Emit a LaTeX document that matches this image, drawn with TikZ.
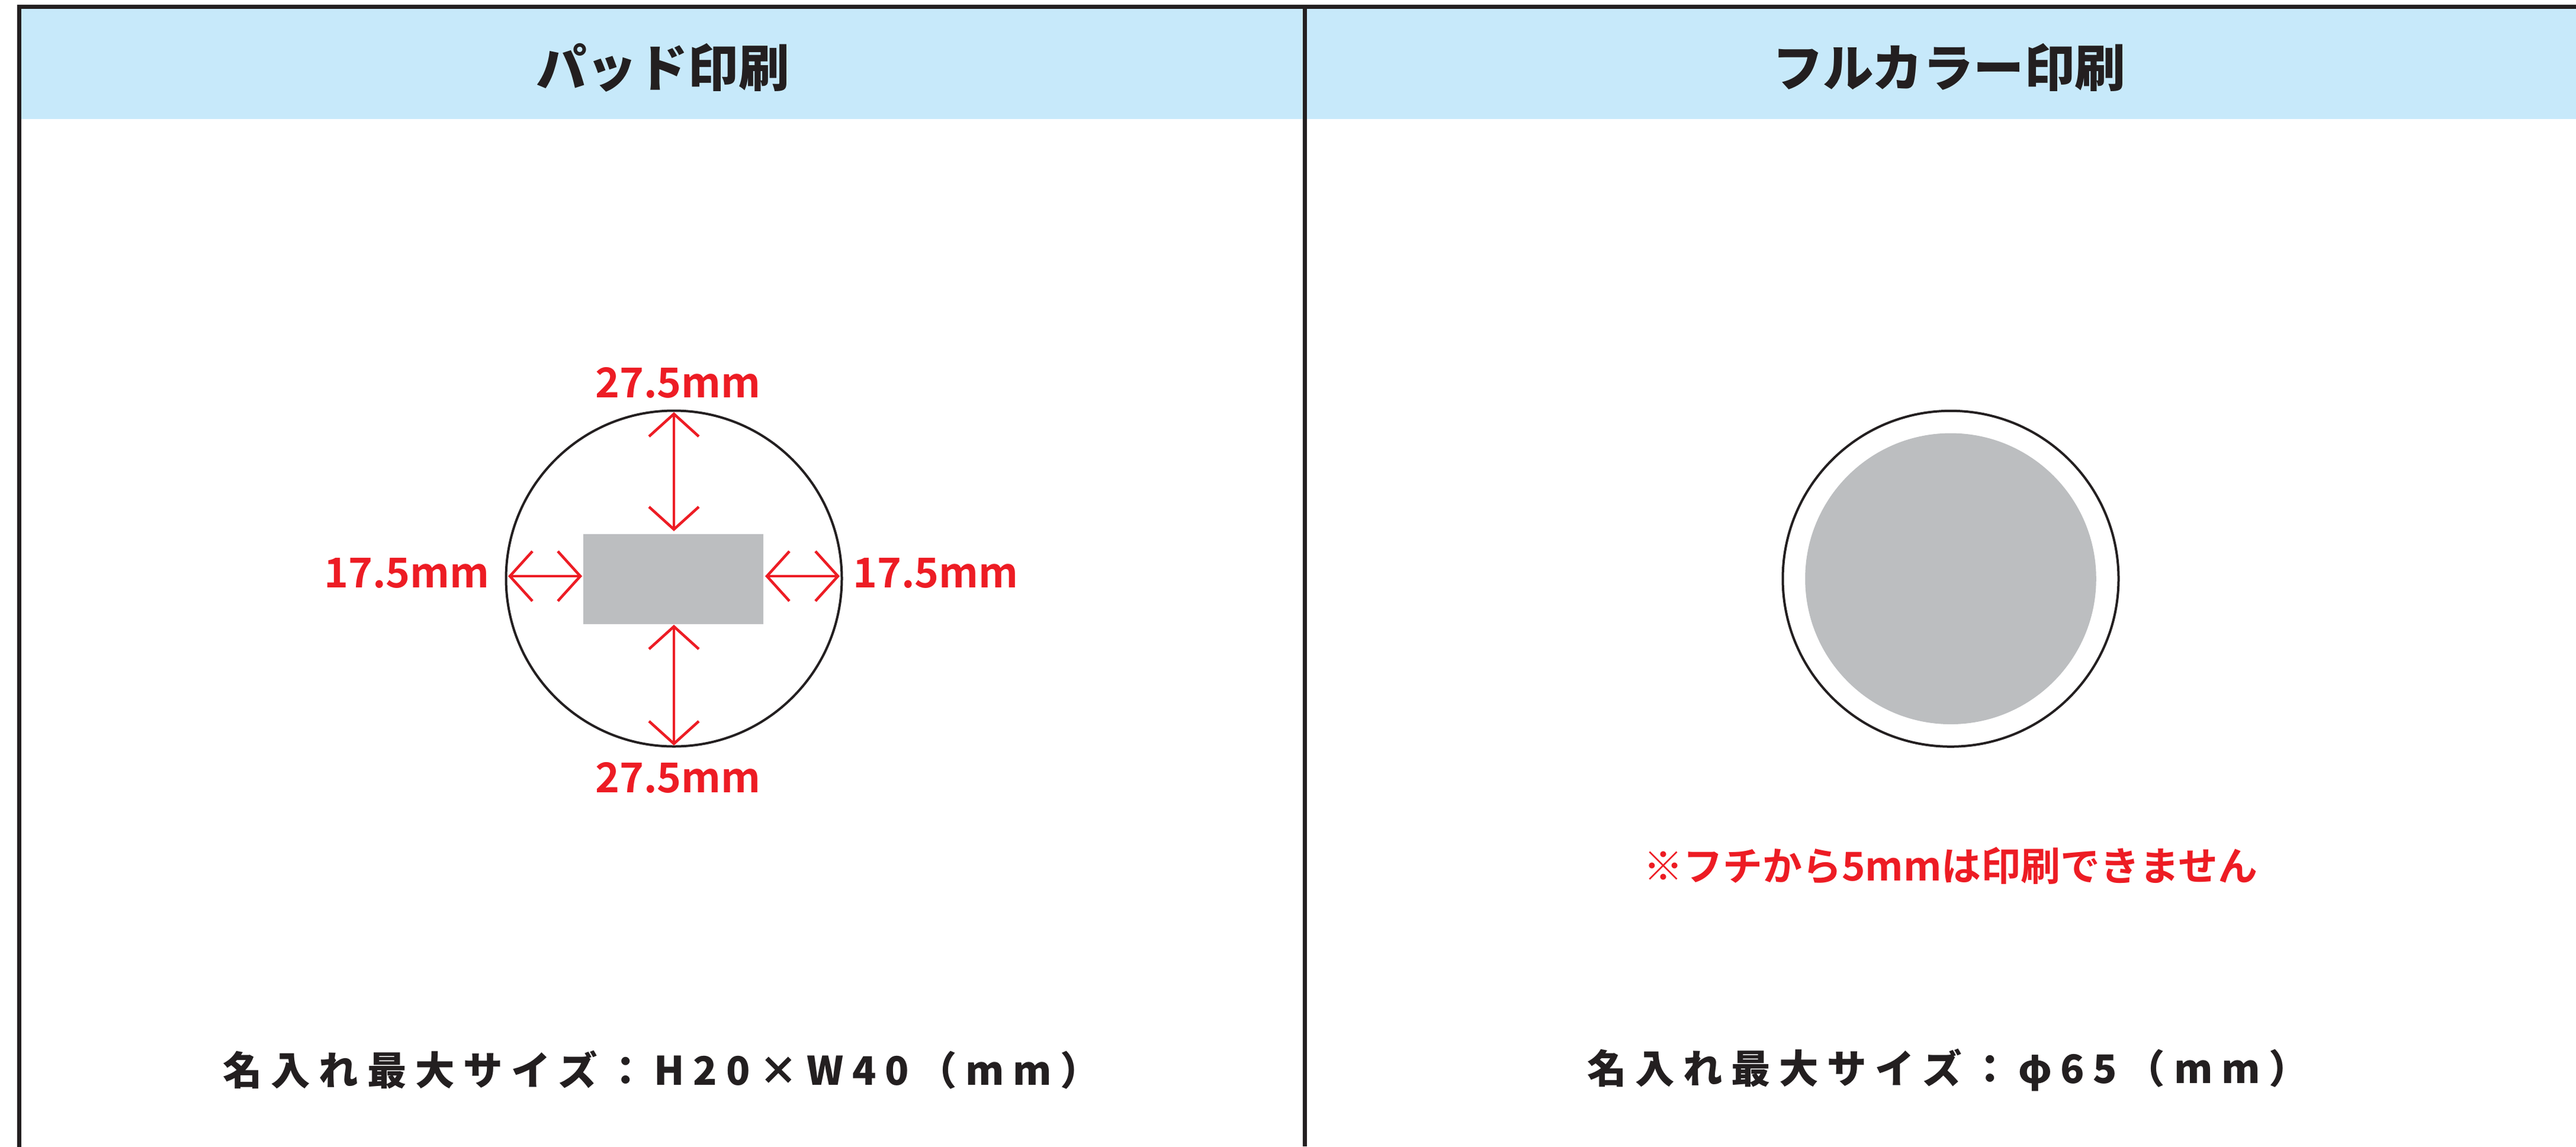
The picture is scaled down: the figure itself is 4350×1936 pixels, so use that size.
\documentclass[tikz,border=0pt]{standalone}
\usepackage{fontspec}
\usetikzlibrary{arrows.meta}
\newfontfamily\jpblack{Noto Sans CJK JP}[BoldFont=*,UprightFont=* Black]
\newfontfamily\jpwide{Noto Sans CJK JP}[UprightFont=* Black,LetterSpace=22]
\newfontfamily\jpbold{Noto Sans CJK JP}[UprightFont=* Bold]
\definecolor{ink}{HTML}{231F20}
\definecolor{headblue}{HTML}{C7E9FA}
\definecolor{printgray}{HTML}{BCBEC0}
\definecolor{markred}{HTML}{ED1C24}
\tikzset{
  x=1pt,y=-1pt,
  head/.style={font=\jpblack\fontsize{85.5}{86}\selectfont,text=ink,inner sep=0,anchor=center},
  foot/.style={font=\jpwide\fontsize{66.5}{67}\selectfont,text=ink,inner sep=0,anchor=center},
  dim/.style={font=\jpbold\fontsize{69.5}{70}\selectfont,text=markred,inner sep=0,anchor=center},
  note/.style={font=\jpbold\fontsize{67}{67}\selectfont,text=markred,inner sep=0,anchor=center},
  dimarrow/.style={draw=markred,line width=4.5pt,{Straight Barb[length=38pt,width=84pt,line width=4.5pt]}-{Straight Barb[length=38pt,width=84pt,line width=4.5pt]}},
  rule/.style={draw=ink,line width=7.3pt},
  ring/.style={circle,draw=ink,line width=4pt,minimum size=567pt,inner sep=0,outer sep=0},
}
\begin{document}
\begin{tikzpicture}
\useasboundingbox (0,0) rectangle (4350,1936);
\fill[white] (0,0) rectangle (4350,1936);
\fill[headblue] (33,11) rectangle (4350,201);
\coordinate (tl) at (32.5,11.5);
\coordinate (tr) at (4350,11.5);
\coordinate (bl) at (32.5,1936);
\coordinate (tm) at (2203.7,11.5);
\coordinate (bm) at (2203.7,1936);
\draw[rule] (tl) -- (tr);
\draw[rule,line cap=rect] (tl) -- (bl);
\draw[rule] (tm) -- (bm);

\node[head] (t1) at (1119,114) {パッド印刷};
\node[head] (t2) at (3291,114) {フルカラー印刷};

\node[ring] (padc) at (1138,977) {};
\node[fill=printgray,minimum width=304pt,minimum height=152pt,inner sep=0,outer sep=0] (padr) at (1137,977.5) {};
\coordinate (al) at (858,973);
\coordinate (bl1) at (983,973);
\coordinate (cr) at (1292,973);
\coordinate (dr) at (1418,973);
\coordinate (vt) at (1138,696);
\coordinate (vb) at (1138,897);
\coordinate (wt) at (1138,1055);
\coordinate (wb) at (1138,1259);
\draw[dimarrow] (vt) -- (vb);
\draw[dimarrow] (wt) -- (wb);
\draw[dimarrow] (al) -- (bl1);
\draw[dimarrow] (cr) -- (dr);
\node[dim] (d1) at (1145,646) {27.5mm};
\node[dim] (d2) at (1145,1313) {27.5mm};
\node[dim] (d3) at (687,968) {17.5mm};
\node[dim] (d4) at (1580,968) {17.5mm};

\node[ring] (fullc) at (3294,977.3) {};
\node[circle,fill=printgray,minimum size=491.5pt,inner sep=0,outer sep=0] (fulli) at (3294,977.3) {};
\node[note] (n1) at (3294,1462) {※フチから5mmは印刷できません};

\node[foot] (f1) at (1117,1807) {名入れ最大サイズ：H20×W40（mm）};
\node[foot] (f2) at (3289,1807) {名入れ最大サイズ：φ65（mm）};
\end{tikzpicture}
\end{document}
